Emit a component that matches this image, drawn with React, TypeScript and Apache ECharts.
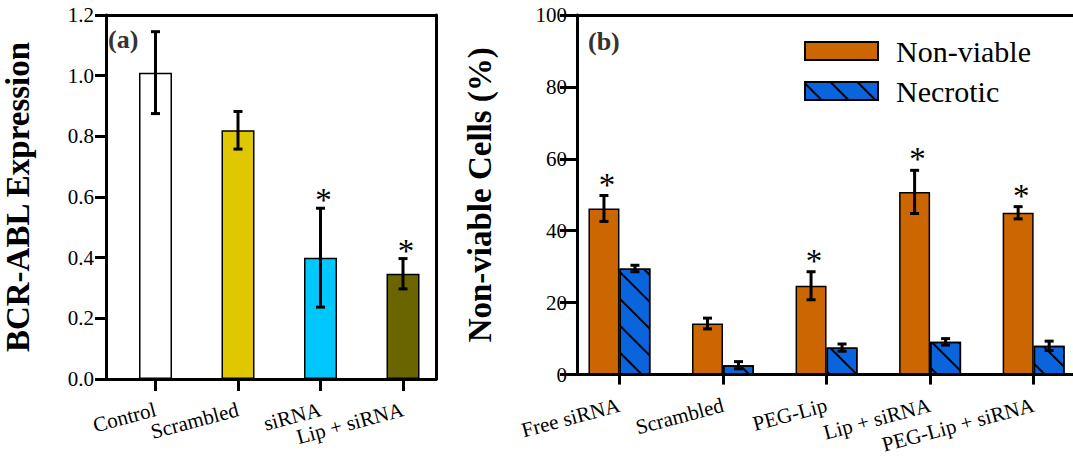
import React, { useEffect, useRef } from 'react';
import * as echarts from 'echarts';

const SERIF = 'Liberation Serif';

// Panel (a)
const leftCats = ['Control', 'Scrambled', 'siRNA', 'Lip + siRNA'];
const leftValues = [1.01, 0.82, 0.40, 0.347];
const leftErrors = [0.135, 0.062, 0.163, 0.05];
const leftStars = [0, 0, 1, 1];
const leftColors = ['#FFFFFF', '#E0C800', '#00C8FF', '#6B6500'];

// Panel (b)
const rightCats = ['Free siRNA', 'Scrambled', 'PEG-Lip', 'Lip + siRNA', 'PEG-Lip + siRNA'];
const nonViable = [46.2, 14.2, 24.7, 50.8, 45.0];
const nonViableErr = [3.6, 1.5, 3.9, 6.0, 1.7];
const nonViableStars = [1, 0, 1, 1, 1];
const necrotic = [29.5, 2.6, 7.5, 9.1, 8.0];
const necroticErr = [0.9, 1.0, 1.0, 0.9, 1.3];
const necroticStars = [0, 0, 0, 0, 0];

const BLACK = '#000';

function errRender(offset: number, starDy: number) {
  return (params: any, api: any) => {
    const x = api.value(0);
    const v = api.value(1);
    const e = api.value(2);
    const s = api.value(3);
    const pTop = api.coord([x, v + e]);
    const pBot = api.coord([x, v - e]);
    const cx = pTop[0] + offset;
    const cap = 4.5;
    const style = { stroke: BLACK, lineWidth: 3 };
    const children: any[] = [
      { type: 'line', shape: { x1: cx, y1: pTop[1], x2: cx, y2: pBot[1] }, style },
      { type: 'line', shape: { x1: cx - cap, y1: pTop[1], x2: cx + cap, y2: pTop[1] }, style },
      { type: 'line', shape: { x1: cx - cap, y1: pBot[1], x2: cx + cap, y2: pBot[1] }, style },
    ];
    if (s) {
      children.push({
        type: 'text',
        x: cx + 3,
        y: pTop[1] + starDy,
        style: {
          text: '*',
          fontFamily: SERIF,
          fontSize: 33,
          fill: BLACK,
          align: 'center',
          verticalAlign: 'middle',
        },
      });
    }
    return { type: 'group', children };
  };
}

const axisLineStyle = { show: true, onZero: false, lineStyle: { color: BLACK, width: 3 } };
const labelFont = { fontFamily: SERIF, color: BLACK, fontSize: 21 };

function buildOption(): any {
  return {
    animation: false,
    backgroundColor: '#fff',
    textStyle: { fontFamily: SERIF },
    grid: [
      { left: 105, top: 15, width: 331, height: 364 },
      { left: 577, top: 15, width: 496, height: 364 },
    ],
    legend: {
      data: ['Non-viable', 'Necrotic'],
      orient: 'vertical',
      left: 804,
      top: 36,
      itemWidth: 73,
      itemHeight: 18,
      itemGap: 10,
      padding: 0,
      icon: 'rect',
      textStyle: { fontSize: 30, fontFamily: SERIF, color: BLACK, lineHeight: 30, padding: [0, 0, 0, 13] },
    },
    xAxis: [
      {
        gridIndex: 0, type: 'value', min: 0.4, max: 4.4, position: 'bottom',
        splitLine: { show: false },
        axisLine: axisLineStyle,
        axisTick: { show: true, customValues: [1, 2, 3, 4], length: 12, lineStyle: { color: BLACK, width: 3 } },
        axisLabel: {
          ...labelFont, customValues: [1, 2, 3, 4], rotate: 15, margin: 30,
          formatter: (v: number) => leftCats[Math.round(v) - 1] ?? '',
        },
      },
      {
        gridIndex: 0, type: 'value', min: 0.4, max: 4.4, position: 'top',
        splitLine: { show: false }, axisLine: axisLineStyle, axisTick: { show: false }, axisLabel: { show: false },
      },
      {
        gridIndex: 1, type: 'value', min: 0.59, max: 5.38, position: 'bottom',
        splitLine: { show: false },
        axisLine: axisLineStyle,
        axisTick: { show: true, customValues: [1, 2, 3, 4, 5], length: 10, lineStyle: { color: BLACK, width: 3 } },
        axisLabel: {
          ...labelFont, customValues: [1, 2, 3, 4, 5], rotate: 15, margin: 30,
          formatter: (v: number) => rightCats[Math.round(v) - 1] ?? '',
        },
      },
      {
        gridIndex: 1, type: 'value', min: 0.59, max: 5.38, position: 'top',
        splitLine: { show: false }, axisLine: axisLineStyle, axisTick: { show: false }, axisLabel: { show: false },
      },
    ],
    yAxis: [
      {
        gridIndex: 0, type: 'value', min: 0, max: 1.2, interval: 0.2, position: 'left',
        splitLine: { show: false },
        axisLine: axisLineStyle,
        axisTick: { show: true, length: 11, lineStyle: { color: BLACK, width: 3 } },
        axisLabel: { ...labelFont, margin: 12, formatter: (v: number) => v.toFixed(1) },
        name: 'BCR-ABL Expression',
        nameLocation: 'middle',
        nameGap: 72,
        nameTextStyle: { fontFamily: SERIF, fontSize: 33, fontWeight: 'bold', color: BLACK },
      },
      {
        gridIndex: 0, type: 'value', min: 0, max: 1.2, position: 'right',
        splitLine: { show: false }, axisLine: axisLineStyle, axisTick: { show: false }, axisLabel: { show: false },
      },
      {
        gridIndex: 1, type: 'value', min: 0, max: 100, interval: 20, position: 'left',
        splitLine: { show: false },
        axisLine: axisLineStyle,
        axisTick: { show: true, length: 17, lineStyle: { color: BLACK, width: 3 } },
        axisLabel: { ...labelFont, margin: 10 },
        name: 'Non-viable Cells (%)',
        nameLocation: 'middle',
        nameGap: 81,
        nameTextStyle: { fontFamily: SERIF, fontSize: 33, fontWeight: 'bold', color: BLACK },
      },
    ],
    graphic: [
      { type: 'text', left: 108, top: 26, style: { text: '(a)', fontFamily: SERIF, fontSize: 26, fontWeight: 'bold', fill: '#333' } },
      { type: 'text', left: 588, top: 28, style: { text: '(b)', fontFamily: SERIF, fontSize: 26, fontWeight: 'bold', fill: '#333' } },
    ],
    series: [
      {
        type: 'bar',
        name: 'Expression',
        xAxisIndex: 0, yAxisIndex: 0,
        barWidth: 33,
        itemStyle: { borderColor: BLACK, borderWidth: 1.5 },
        data: leftValues.map((v, i) => ({ value: [i + 1, v], itemStyle: { color: leftColors[i] } })),
      },
      {
        type: 'custom',
        name: 'errA',
        xAxisIndex: 0, yAxisIndex: 0,
        z: 5,
        encode: { x: 0, y: 1 },
        renderItem: errRender(0, -8),
        data: leftValues.map((v, i) => [i + 1, v, leftErrors[i], leftStars[i]]),
      },
      {
        type: 'bar',
        name: 'Non-viable',
        xAxisIndex: 2, yAxisIndex: 2,
        barWidth: 31,
        barGap: '0%',
        itemStyle: { color: '#CC6600', borderColor: BLACK, borderWidth: 1.5 },
        data: nonViable.map((v, i) => [i + 1, v]),
      },
      {
        type: 'bar',
        name: 'Necrotic',
        xAxisIndex: 2, yAxisIndex: 2,
        barWidth: 31,
        barGap: '0%',
        itemStyle: {
          color: '#0A64DC', borderColor: BLACK, borderWidth: 1.5,
          decal: {
            symbol: 'rect', symbolSize: 1, color: BLACK,
            dashArrayX: [1, 0], dashArrayY: [2, 17], rotation: Math.PI / 4,
          },
        },
        data: necrotic.map((v, i) => [i + 1, v]),
      },
      {
        type: 'custom',
        name: 'errNV',
        xAxisIndex: 2, yAxisIndex: 2,
        z: 5,
        encode: { x: 0, y: 1 },
        renderItem: errRender(-15.5, -11),
        data: nonViable.map((v, i) => [i + 1, v, nonViableErr[i], nonViableStars[i]]),
      },
      {
        type: 'custom',
        name: 'errNec',
        xAxisIndex: 2, yAxisIndex: 2,
        z: 5,
        encode: { x: 0, y: 1 },
        renderItem: errRender(15.5, -11),
        data: necrotic.map((v, i) => [i + 1, v, necroticErr[i], necroticStars[i]]),
      },
    ],
  };
}

export default function App() {
  const ref = useRef<HTMLDivElement>(null);
  useEffect(() => {
    if (!ref.current) return;
    const chart = echarts.init(ref.current, null, { renderer: 'svg' });
    chart.setOption(buildOption());
    return () => chart.dispose();
  }, []);
  return (
    <div
      ref={ref}
      style={{ position: 'absolute', left: 0, top: 0, width: 1073, height: 456, background: '#fff' }}
    />
  );
}
